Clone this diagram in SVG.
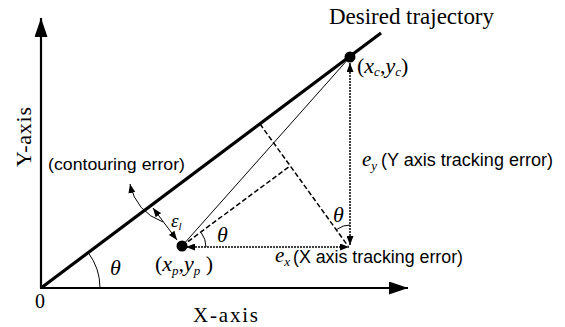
<svg xmlns="http://www.w3.org/2000/svg" width="565" height="327" viewBox="0 0 565 327">
<style>
.serif{font-family:"Liberation Serif","Times New Roman",serif;fill:#000}
.it{font-style:italic}
.sans{font-family:"Liberation Sans",Arial,sans-serif;fill:#000}
.axis{stroke:#000;stroke-width:2.2;fill:none}
.traj{stroke:#000;stroke-width:3.2;fill:none}
.thin{stroke:#000;stroke-width:1;fill:none}
.dot{stroke:#000;stroke-width:1.5;stroke-dasharray:2 1;fill:none}
.dash{stroke:#000;stroke-width:1.5;stroke-dasharray:5 2.5;fill:none}
</style>
<defs>
<marker id="big" viewBox="0 0 19 13" refX="19" refY="6.5" markerWidth="19" markerHeight="13" markerUnits="userSpaceOnUse" orient="auto">
<path d="M0,0 L19,6.5 L0,13 z" fill="#000"/>
</marker>
<marker id="sm" viewBox="0 0 9 7" refX="9" refY="3.5" markerWidth="9" markerHeight="7" markerUnits="userSpaceOnUse" orient="auto-start-reverse">
<path d="M0,0 L9,3.5 L0,7 z" fill="#000"/>
</marker>
</defs>

<g id="axes">
<line class="axis" x1="41" y1="288" x2="41" y2="18" marker-end="url(#big)"/>
<line class="axis" x1="40" y1="288" x2="408" y2="288" marker-end="url(#big)"/>
<text class="serif" x="35" y="308" font-size="20">0</text>
<text class="serif" x="193" y="322" font-size="21" textLength="65" lengthAdjust="spacing">X-axis</text>
<text class="serif" font-size="22" textLength="60" lengthAdjust="spacing" transform="translate(31,167) rotate(-90)">Y-axis</text>
</g>

<g id="trajectory">
<line class="traj" x1="41" y1="288" x2="381" y2="33"/>
<text class="serif" x="329" y="24" font-size="23" textLength="165" lengthAdjust="spacing">Desired trajectory</text>
</g>

<g id="connectors">
<line class="thin" x1="182" y1="246" x2="350" y2="57"/>
<line class="dash" x1="182" y1="246" x2="290" y2="166"/>
<line class="dash" x1="260" y1="124" x2="348" y2="246"/>
<line class="dot" x1="186" y1="247" x2="349" y2="247" marker-start="url(#sm)" marker-end="url(#sm)"/>
<line class="dot" x1="350" y1="245" x2="350" y2="63" marker-start="url(#sm)" marker-end="url(#sm)"/>
<line class="thin" x1="153" y1="208" x2="177" y2="240" stroke-width="1.2" marker-start="url(#sm)" marker-end="url(#sm)"/>
<path class="thin" d="M163,222 Q136,212 130,184" marker-end="url(#sm)"/>
<path class="thin" d="M100,288 A59,59 0 0 0 88.2,252.6"/>
<path class="thin" d="M206,247 A24,24 0 0 0 201.2,232.6"/>
<path class="thin" d="M350,225 A22,22 0 0 0 337.1,229.2"/>
</g>

<g id="point-p">
<circle cx="182" cy="246" r="5.5" fill="#000"/>
<text class="serif" x="155" y="271" font-size="22">(<tspan class="it">x</tspan><tspan class="it" font-size="13" dy="4">p</tspan><tspan dy="-4">,</tspan><tspan class="it">y</tspan><tspan class="it" font-size="13" dy="4">p</tspan><tspan dy="-4"> )</tspan></text>
</g>

<g id="point-c">
<circle cx="350" cy="57" r="5.5" fill="#000"/>
<text class="serif" x="357" y="73" font-size="22">(<tspan class="it">x</tspan><tspan class="it" font-size="13" dy="3">c</tspan><tspan dy="-3">,</tspan><tspan class="it">y</tspan><tspan class="it" font-size="13" dy="3">c</tspan><tspan dy="-3">)</tspan></text>
</g>

<g id="labels">
<text class="sans" x="48" y="170" font-size="17" textLength="137" lengthAdjust="spacingAndGlyphs">(contouring error)</text>
<text class="serif it" x="171" y="227" font-size="19">ε<tspan font-size="11" dy="3">l</tspan></text>
<text class="serif it" x="110" y="275" font-size="22">θ</text>
<text class="serif it" x="217" y="242" font-size="22">θ</text>
<text class="serif it" x="333" y="222" font-size="22">θ</text>
<text class="serif it" x="362" y="166" font-size="21">e<tspan font-size="13" dy="4">y</tspan></text>
<text class="sans" x="381" y="166" font-size="17.5" textLength="172" lengthAdjust="spacingAndGlyphs">(Y axis tracking error)</text>
<text class="serif it" x="275" y="262" font-size="21">e<tspan font-size="13" dy="4">x</tspan></text>
<text class="sans" x="293" y="263" font-size="17.5" textLength="170" lengthAdjust="spacingAndGlyphs">(X axis tracking error)</text>
</g>
</svg>
